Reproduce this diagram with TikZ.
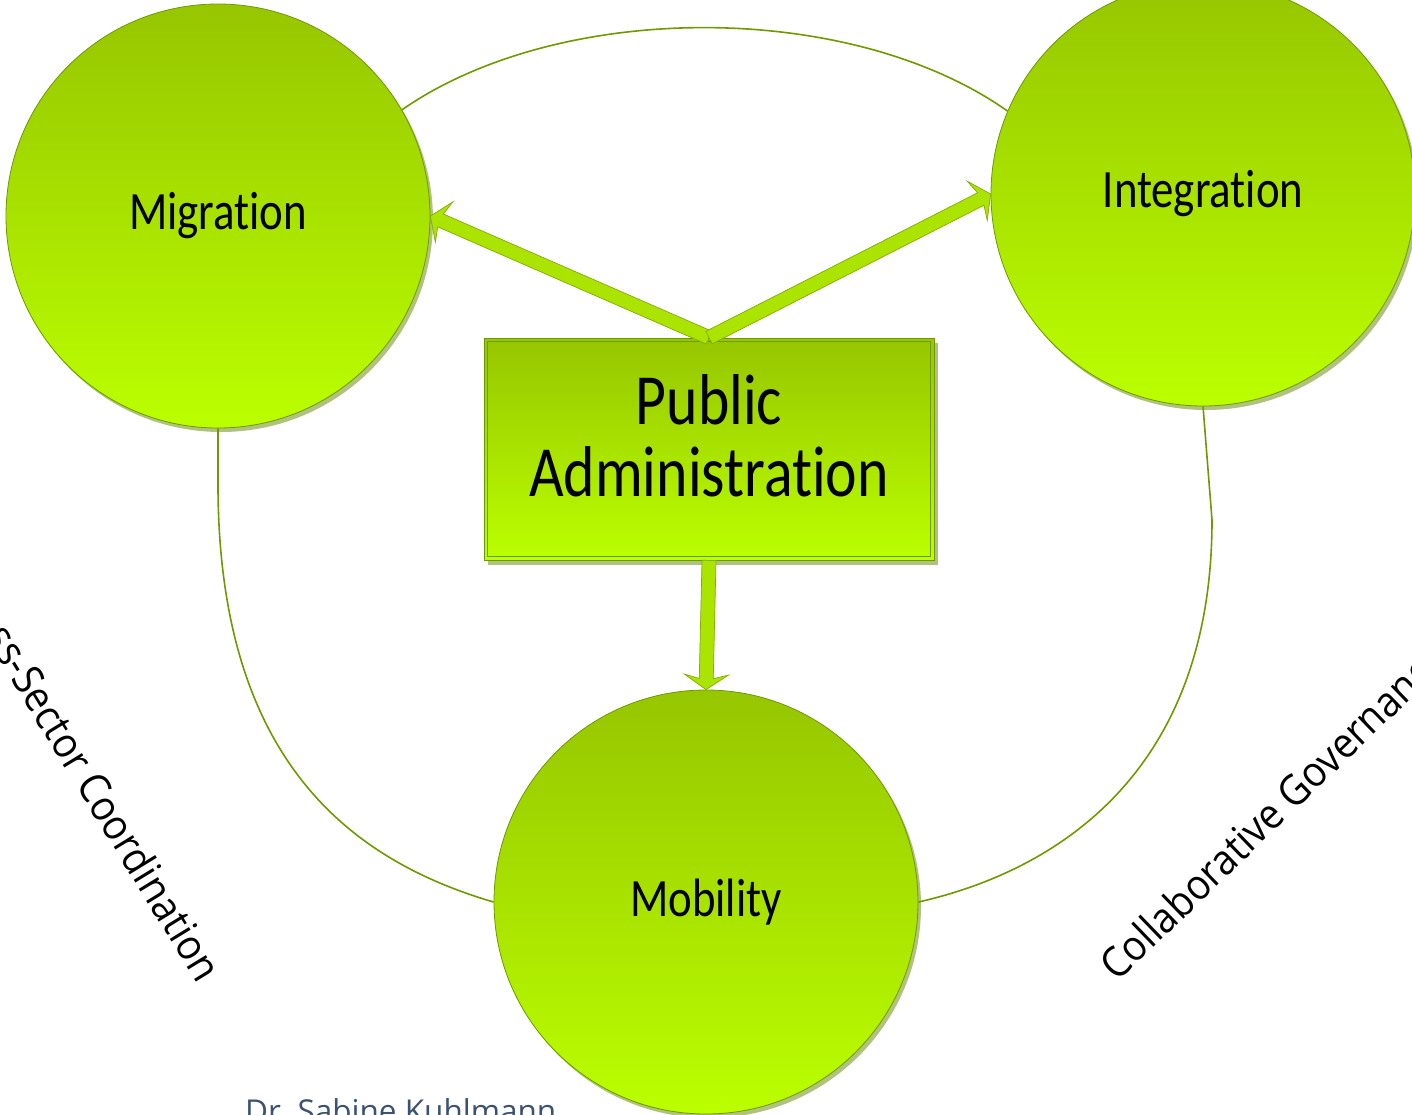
\documentclass[tikz,border=0pt]{standalone}
\usepackage{fontspec}
\setmainfont[FakeStretch=0.92]{Open Sans}
\newfontfamily\lblfont[FakeStretch=0.83,Ligatures=NoCommon]{Carlito}
\newfontfamily\authfont{Open Sans}
\usetikzlibrary{calc,shadows}
\definecolor{gtop}{HTML}{96C600}
\definecolor{gbot}{HTML}{BBFF00}
\definecolor{gline}{HTML}{6E9A00}
\definecolor{gshadow}{HTML}{A3B86A}
\definecolor{afill}{HTML}{AAE400}
\definecolor{adraw}{HTML}{82B000}
\definecolor{authorc}{HTML}{3B5272}
\newcommand{\blkarrow}[2]{%
  \coordinate (ajn) at ($(#2)!11pt!(#1)$);
  \coordinate (abb) at ($(#2)!15pt!(#1)$);
  \fill[arrowshade,shift={(3,4)}]
    ($(#1)!7pt!90:(#2)$) -- ($(ajn)!7pt!90:(#2)$) -- ($(abb)!22pt!90:(#2)$) -- (#2)
    -- ($(abb)!22pt!-90:(#2)$) -- ($(ajn)!7pt!-90:(#2)$) -- ($(#1)!7pt!-90:(#2)$) -- cycle;
  \filldraw[arrowbody]
    ($(#1)!7pt!90:(#2)$) -- ($(ajn)!7pt!90:(#2)$) -- ($(abb)!22pt!90:(#2)$) -- (#2)
    -- ($(abb)!22pt!-90:(#2)$) -- ($(ajn)!7pt!-90:(#2)$) -- ($(#1)!7pt!-90:(#2)$) -- cycle;
}
\begin{document}
\begin{tikzpicture}[x=1pt,y=-1pt,
  conn/.style={draw=gline, line width=1.6pt},
  bubble/.style={circle, minimum size=424pt, inner sep=0pt, top color=gtop, bottom color=gbot,
    draw=gline, line width=0.8pt, font=\lblfont\fontsize{54}{60}\selectfont, text=black,
    drop shadow={shadow xshift=3pt, shadow yshift=-4pt, fill=gshadow, opacity=0.85}},
  pabox/.style={rectangle, minimum width=450pt, minimum height=222pt, inner sep=0pt,
    top color=gtop, bottom color=gbot, draw=gline, line width=0.8pt,
    drop shadow={shadow xshift=4pt, shadow yshift=-5pt, fill=gshadow, opacity=0.85}},
  innerframe/.style={draw=gline, line width=0.8pt},
  patext/.style={font=\lblfont\fontsize{72}{72}\selectfont, align=center, inner sep=0pt, text=black},
  sidetext/.style={font=\fontsize{42}{50}\selectfont, inner sep=0pt, text=black},
  arrowbody/.style={fill=afill, draw=adraw, line width=0.7pt},
  arrowshade/.style={fill=gshadow, opacity=0.8},
]
\useasboundingbox (0,0) rectangle (1412,1114);
\fill[white] (0,0) rectangle (1412,1114);
\clip (0,0) rectangle (1412,1114);

% circles
\node[bubble] (mig) at (218,216) {Migration};
\node[bubble] (int) at (1203,194) {Integration};
\node[bubble] (mob) at (706,902) {Mobility};

% connectors between circles
\draw[conn] (mig.30) .. controls (560,0) and (850,0) .. (int.157);
\draw[conn] (mig.south) -- (218,490) .. controls (220,760) and (350,860) .. (mob.west);
\draw[conn] (int.south) -- (1212,520) .. controls (1212,770) and (1060,870) .. (mob.east);

% central box
\node[pabox] (pa) at (709,449) {};
\draw[innerframe] ($(pa.north west)+(4,4)$) rectangle ($(pa.south east)+(-4,-4)$);
\node[patext] (patxt) at (709,436) {Public\\Administration};

% block arrows
\blkarrow{pa.north}{mig.east}
\blkarrow{pa.north}{int.west}
\blkarrow{pa.south}{mob.north}

% side labels
\node[sidetext, rotate=-58.5, anchor=base east] (cross) at (198,985) {Cross-Sector Coordination};
\node[sidetext, rotate=44, anchor=base west] (collab) at (1117,983) {Collaborative Governance};
\node[anchor=base west, inner sep=0pt, text=authorc, font=\authfont\fontsize{31.5}{36}\selectfont] (author) at (245,1122) {Dr.\ Sabine Kuhlmann};
\end{tikzpicture}
\end{document}
